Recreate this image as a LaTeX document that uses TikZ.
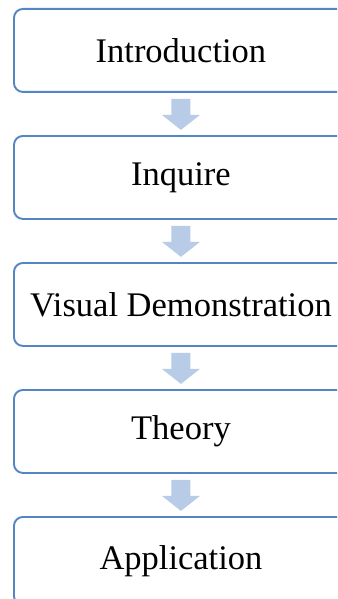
\documentclass[tikz,border=0pt]{standalone}
\usepackage{fontspec}
\setmainfont{Liberation Serif}
\usetikzlibrary{calc}
\definecolor{boxline}{RGB}{84,134,194}
\definecolor{arrowfill}{RGB}{184,204,232}
\tikzset{
  stepbox/.style={draw=boxline, line width=1.9pt, rounded corners=9pt, fill=white,
    minimum width=334pt, minimum height=83pt, anchor=north west, inner sep=0pt,
    font=\fontsize{34.5}{40}\selectfont},
  flowarrow/.style={fill=arrowfill, draw=none}
}
\newcommand{\downarrowshape}[1]{%
  \fill[flowarrow] ($(#1.south)+(-9.5,6)$) -- ($(#1.south)+(9.5,6)$) -- ($(#1.south)+(9.5,22)$)
    -- ($(#1.south)+(19,22)$) -- ($(#1.south)+(0,37)$) -- ($(#1.south)+(-19,22)$)
    -- ($(#1.south)+(-9.5,22)$) -- cycle;}
\begin{document}
\begin{tikzpicture}[x=1pt,y=-1pt]
\useasboundingbox (0,0) rectangle (337,599);
\clip (0,0) rectangle (337,599);
\fill[white] (0,0) rectangle (337,599);
\node[stepbox] (intro) at (13,8) {Introduction};
\node[stepbox] (inq) at (13,135) {Inquire};
\node[stepbox] (vis) at (13,262) {Visual Demonstration};
\node[stepbox] (theo) at (13,389) {Theory};
\node[stepbox, minimum height=88pt] (app) at (13,516) {Application};
\downarrowshape{intro}
\downarrowshape{inq}
\downarrowshape{vis}
\downarrowshape{theo}
\end{tikzpicture}
\end{document}
